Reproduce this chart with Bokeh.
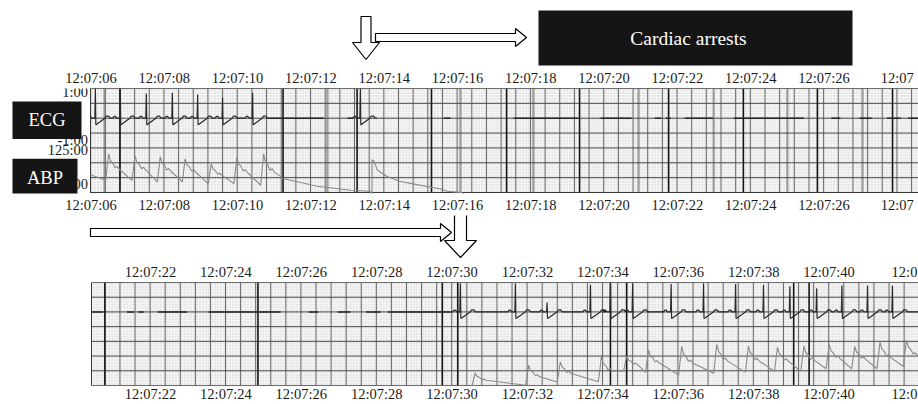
import numpy as np
from bokeh.plotting import figure
from bokeh.models import Range1d, LinearAxis, FixedTicker
from bokeh.layouts import column
from bokeh.embed import file_html
from bokeh.resources import INLINE
from bokeh.core.properties import value

# ---------------- data (time in seconds after 12:07:00) ----------------
# the last label of each strip is cut by the right edge of the picture
top_tick_secs = [6, 8, 10, 12, 14, 16, 18, 20, 22, 24, 26, 28]
top_tick_labels = ["12:07:06", "12:07:08", "12:07:10", "12:07:12", "12:07:14", "12:07:16",
                   "12:07:18", "12:07:20", "12:07:22", "12:07:24", "12:07:26", "12:07"]
bottom_tick_secs = [22, 24, 26, 28, 30, 32, 34, 36, 38, 40, 42]
bottom_tick_labels = ["12:07:22", "12:07:24", "12:07:26", "12:07:28", "12:07:30", "12:07:32",
                      "12:07:34", "12:07:36", "12:07:38", "12:07:40", "12:0"]

# channel scale labels of the upper strip (ECG units)
ecg_axis_ticks = [0.87, -0.73, -1.07, -2.2]
ecg_axis_labels = ["1:00", "-1:00", "125:00", "50:00"]

# ECG R waves (time, amplitude)
r_times = [6.12, 6.80, 7.51, 8.22, 8.91, 9.59, 10.41, 13.35,
           30.22, 31.68, 32.52, 33.67, 34.20, 34.79, 35.81, 36.67, 37.52,
           38.26, 38.96, 39.67, 40.34, 41.02, 41.68]
r_amps = [1.0, 1.0, 0.83, 0.86, 0.80, 0.69, 0.86, 1.0,
          0.97, 0.97, 0.32, 0.92, 0.97, 0.97, 0.95, 0.97, 0.95,
          0.92, 0.87, 0.80, 0.90, 0.90, 0.90]
ecg_win_start = [5.9, 13.15, 29.95]
ecg_win_end = [10.81, 13.80, 42.6]
# flat-line fragments during the arrest
flat_start = [10.81, 13.00, 15.62, 17.53, 19.90, 21.38, 21.68, 22.20, 23.54, 26.20, 26.97, 27.72, 28.30]
flat_end = [12.35, 13.15, 15.81, 19.30, 20.75, 21.56, 21.82, 22.97, 25.45, 26.45, 27.30, 28.10, 29.95]

# ABP beats: foot time, foot value, peak value
abp_top_foot_t = [6.40, 7.12, 7.81, 8.49, 9.20, 9.90, 10.63]
abp_top_foot_v = [70.5, 70.5, 67.8, 67.8, 65.0, 65.0, 62.2]
abp_top_peak_v = [115, 112, 110.5, 106.7, 98.3, 109.5, 115]
abp_lead_t = [5.9]
abp_lead_v = [82]
abp_decay_t = [11.26, 11.72, 12.17, 13.08, 13.62, 13.665, 13.67, 13.72, 13.81, 14.08,
               14.44, 14.90, 15.54, 15.72, 16.10, 16.40, 30.45]
abp_decay_v = [73.3, 66.7, 60.5, 53.8, 52.0, 40, 105, 103, 88, 77,
               68.6, 63.3, 56, 52.2, 50, 40, 40]
abp_bot_foot_t = [30.53, 31.95, 32.79, 33.88, 34.55, 35.13, 36.01, 36.94, 37.78, 38.55,
                  39.25, 39.92, 40.60, 41.27, 41.97]
abp_bot_foot_v = [50, 50.5, 56, 56.5, 74.8, 72.2, 67.8, 71, 72.7, 74.3,
                  74.3, 78.4, 78.4, 78.4, 82.4]
abp_bot_peak_v = [71, 84.5, 90, 98.6, 100, 110, 116.4, 119.7, 117.2, 114.8,
                  117.2, 119.7, 116.4, 123.4, 127]
abp_end_t = [42.5]
abp_end_v = [100]

# heavy and light-thick chart-paper lines
top_dark_lines = [6.79, 11.24, 13.26, 15.29, 17.34, 19.33, 21.76, 23.80, 25.82, 27.87]
top_soft_lines = [6.37, 12.45, 16.08, 18.07, 20.94, 22.99, 25.00, 27.05]
bottom_dark_lines = [20.79, 24.85, 29.74, 30.15, 34.20, 34.63, 39.06, 39.47]
bottom_soft_lines = []

# ---------------- waveform shapes (style) ----------------
S_DEPTH = 0.22
def ecg_beat(t, a):
    shape = [(-0.20, 0.0), (-0.17, 0.06), (-0.13, 0.06), (-0.10, 0.0), (-0.015, 0.0),
             (0.0, a), (0.012, -S_DEPTH), (0.045, -S_DEPTH * 0.9), (0.26, 0.0),
             (0.30, 0.07), (0.36, 0.07), (0.40, 0.0)]
    return [t + d for d, _ in shape], [v for _, v in shape]

ecg_x, ecg_y = [], []
for w0, w1 in zip(ecg_win_start, ecg_win_end):
    ecg_x.append(w0); ecg_y.append(0.0)
    for t, a in zip(r_times, r_amps):
        if w0 < t < w1:
            bx, by = ecg_beat(t, a)
            ecg_x += bx; ecg_y += by
    ecg_x += [w1, np.nan]; ecg_y += [0.0, np.nan]

ABP_SHAPE = [(0.0, 0.0), (0.08, 1.0), (0.13, 0.74), (0.19, 0.66), (0.26, 0.47), (0.31, 0.53), (0.37, 0.42)]
abp_x, abp_y = list(abp_lead_t), list(abp_lead_v)
def add_beats(ft, fv, pv):
    for t, f, pk in zip(ft, fv, pv):
        for d, fr in ABP_SHAPE:
            abp_x.append(t + d); abp_y.append(f + fr * (pk - f))
add_beats(abp_top_foot_t, abp_top_foot_v, abp_top_peak_v)
abp_x += abp_decay_t; abp_y += abp_decay_v
add_beats(abp_bot_foot_t, abp_bot_foot_v, abp_bot_peak_v)
abp_x += abp_end_t; abp_y += abp_end_v


def clip_left(xs, ys, lo):
    ox, oy, prev = [], [], None
    for x, y in zip(xs, ys):
        if x != x:
            ox.append(np.nan); oy.append(np.nan); prev = None
            continue
        if x >= lo:
            if prev is not None and prev[0] < lo:
                f = (lo - prev[0]) / (x - prev[0])
                ox.append(lo); oy.append(prev[1] + f * (y - prev[1]))
            ox.append(x); oy.append(y)
        elif prev is not None and prev[0] >= lo:
            ox.append(np.nan); oy.append(np.nan)
        prev = (x, y)
    return ox, oy


SERIF = "Liberation Serif"
W = 918


def blank(height, y_top, y_bot):
    """Annotation band, drawn in page-pixel coordinates."""
    p = figure(width=W, height=height, x_range=Range1d(0, W), y_range=Range1d(y_bot, y_top),
               x_axis_location=None, y_axis_location=None, toolbar_location=None,
               output_backend="svg", min_border=0)
    p.grid.visible = False
    p.outline_line_color = None
    p.background_fill_color = "white"
    p.border_fill_color = "white"
    return p


def arrow(p, pts, **kw):
    p.patch([x for x, _ in pts], [y for _, y in pts], fill_color="white", line_color="black",
            line_width=1.2, **kw)


def make_strip(height, top_b, bot_b, page_top, page_bot, page_left, px_per_s, ref_sec, ref_px,
               tick_secs, tick_labels, phase, dark_lines, soft_lines, so_top, so_bot):
    x0 = ref_sec - ref_px / px_per_s
    x1 = ref_sec + (W - ref_px) / px_per_s
    ppu = (page_bot - page_top) / 3.5            # px per ECG unit (7 rows of 0.5)
    frame_bot = page_top + (height - top_b - bot_b)
    ylo = 1.0 - (frame_bot - page_top) / ppu
    p = figure(width=W, height=height, x_range=Range1d(x0, x1), y_range=Range1d(ylo, 1.0),
               x_axis_location=None, y_axis_location=None, toolbar_location=None,
               output_backend="svg", min_border_top=top_b, min_border_bottom=bot_b,
               min_border_left=0, min_border_right=0)
    p.extra_y_ranges = {"abp": Range1d(50 + (ylo + 2.5) * 50, 225),
                        "py": Range1d(frame_bot, page_top)}
    p.extra_x_ranges = {"px": Range1d(0, W)}
    p.grid.visible = False
    p.outline_line_color = None
    p.background_fill_color = "white"
    p.border_fill_color = "white"
    tl = ref_sec - (ref_px - page_left) / px_per_s     # strip left edge in seconds
    # chart paper
    p.quad(left=[tl], right=[x1 + 1], bottom=[-2.5], top=[1.0], fill_color="#e5e5e5", line_color=None)
    fv = phase + 0.08 * np.arange(-200, 400)
    fv = fv[(fv > tl) & (fv < x1)]
    p.segment(fv, -2.5, fv, 1.0, line_color="#f6f6f6", line_width=1)
    fh = np.arange(-2.5, 1.0, 0.1)
    p.segment(tl, fh, x1 + 1, fh, line_color="#f6f6f6", line_width=1)
    if soft_lines:
        sv = np.array(soft_lines)
        p.segment(sv, -2.5, sv, 1.0, line_color="#a0a0a0", line_width=2.4)
    mv = phase + 0.4 * np.arange(-40, 80)
    mv = mv[(mv > tl) & (mv < x1)]
    p.segment(mv, -2.5, mv, 1.0, line_color="#666666", line_width=1)
    mh = np.arange(-2.5, 1.01, 0.5)
    p.segment(tl, mh, x1 + 1, mh, line_color="#4a4a4a", line_width=1)
    dv = np.array(dark_lines)
    p.segment(dv, -2.5, dv, 1.0, line_color="#151515", line_width=1.6)
    p.quad(left=[tl], right=[x1 + 1], bottom=[-2.5], top=[1.0], fill_color=None,
           line_color="#3a3a3a", line_width=1)
    # time axes
    for loc, so in (("above", so_top), ("below", so_bot)):
        ax = LinearAxis(ticker=FixedTicker(ticks=tick_secs),
                        major_label_overrides=dict(zip(tick_secs, tick_labels)),
                        axis_line_color=None, major_tick_line_color=None, minor_tick_line_color=None,
                        major_tick_out=0, major_tick_in=0, minor_tick_out=0, minor_tick_in=0,
                        major_label_text_font=SERIF, major_label_text_font_size="14.5px",
                        major_label_text_color="#1a1a1a", major_label_standoff=so)
        p.add_layout(ax, loc)
    # traces
    ax_, ay_ = clip_left(abp_x, abp_y, tl)
    p.line(ax_, ay_, y_range_name="abp", line_color="#8a8a8a", line_width=1.1)
    p.line([max(tl, 10.81), 29.95], [0, 0], line_color="#555555", line_alpha=0.45, line_width=1,
           line_dash="1 4")
    fs = [(max(s, tl), e) for s, e in zip(flat_start, flat_end) if e > tl]
    p.multi_line([[s, e] for s, e in fs], [[0, 0] for _ in fs], line_color="#262626", line_width=1.6)
    ex_, ey_ = clip_left(ecg_x, ecg_y, tl)
    p.line(ex_, ey_, line_color="#2a2a2a", line_width=1.2)
    return p


# ---------- header band: cardiac-arrest marker and arrows ----------
h = blank(66, 0, 66)
h.quad(left=[538], right=[852], top=[10], bottom=[65], fill_color="#151515", line_color=None)
h.text(x=[688], y=[37.5], text=["Cardiac arrests"], text_font=value(SERIF),
       text_font_size=value("19.5px"), text_color="white", text_align="center",
       text_baseline="middle")
arrow(h, [(360.5, 16), (370.5, 16), (370.5, 42), (379, 42), (365.5, 59), (352, 42), (360.5, 42)])
arrow(h, [(375, 33), (515, 33), (515, 28), (526, 37), (515, 46), (515, 41), (375, 41)])

# ---------- upper strip ----------
s1 = make_strip(149, 22, 21, 88, 193, 90, 36.65, 6, 90.5, top_tick_secs, top_tick_labels,
                6.79, top_dark_lines, top_soft_lines, 3, 3)
s1.text(x=[87.5] * len(ecg_axis_ticks), y=ecg_axis_ticks, text=ecg_axis_labels, x_range_name="px",
        text_font=value(SERIF), text_font_size=value("14.5px"), text_color="#1a1a1a",
        text_align="right", text_baseline="middle")
s1.quad(left=[12, 12], right=[81, 77], top=[101, 159], bottom=[139, 197], x_range_name="px",
        y_range_name="py", fill_color="#151515", line_color=None)
s1.text(x=[46.5, 44.5], y=[120, 178], text=["ECG", "ABP"], x_range_name="px", y_range_name="py",
        text_font=value(SERIF), text_font_size=value("18.5px"), text_color="white",
        text_align="center", text_baseline="middle")

# ---------- arrows between strips ----------
a2 = blank(45, 215, 260)
arrow(a2, [(90, 228), (440, 228), (440, 223), (451, 232), (440, 241), (440, 236), (90, 236)])
arrow(a2, [(454, 214), (466, 214), (466, 240), (476, 240), (460, 257), (444, 240), (454, 240)])

# ---------- lower strip ----------
s2 = make_strip(144, 20, 16, 280, 388, 91, 37.7, 22, 150, bottom_tick_secs, bottom_tick_labels,
                20.79, bottom_dark_lines, bottom_soft_lines, 3, 0)

layout = column(h, s1, a2, s2, spacing=0)
open("out.html", "w").write(file_html(layout, INLINE))
